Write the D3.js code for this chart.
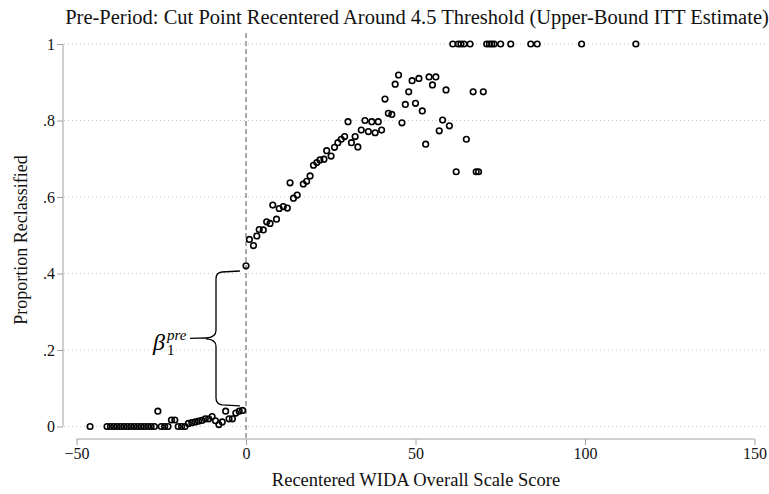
<!DOCTYPE html>
<html>
<head>
<meta charset="utf-8">
<script src="https://cdn.jsdelivr.net/npm/d3@7"></script>
<style>
  body { margin: 0; background: #fff; }
  text { font-family: "Liberation Serif", "Times New Roman", serif; }
</style>
</head>
<body>
<div id="chart"></div>
<script>
// binned scores (recentered) and share reclassified
var scoreBins = [
  -46, -41, -40, -39, -38, -37, -36, -35, -34, -33, -32, -31, -30, -29, -28, -27,
  -26, -25, -24, -23, -22, -21, -20, -19, -18, -17, -16, -15, -14, -13, -12, -11,
  -10, -9, -8, -7, -6, -5, -4, -3, -2, -1,
  0, 1.0, 2.2, 3.2, 3.9, 5.1, 6.1, 7.1, 7.9, 9.0, 9.8, 11.0, 12.2, 13.0, 14.0, 15.1,
  16.9, 17.9, 18.9, 19.9, 20.9, 21.8, 23.0, 23.8, 25.1, 26.1, 27.1, 28.1, 29.1, 30.1,
  31.1, 32.2, 33.0, 34.0, 35.1, 36.1, 37.1, 38.1, 39.0, 40.0,
  41, 42, 43, 44, 45, 46, 47, 48, 49, 50, 51, 52, 53, 54, 55, 56, 57, 58, 59, 60,
  62, 65, 67, 67.9, 68.6, 70,
  61, 62.6, 63.4, 64.3, 66.1, 71, 71.8, 72.5, 73.2, 75.1, 78.1, 84, 85.9, 99, 115
];
var propReclass = [
  0, 0, 0, 0, 0, 0, 0, 0, 0, 0, 0, 0, 0, 0, 0, 0,
  0.04, 0, 0, 0, 0.017, 0.017, 0, 0, 0, 0.008, 0.01, 0.012, 0.014, 0.016, 0.02, 0.02,
  0.026, 0.015, 0.005, 0.012, 0.04, 0.02, 0.02, 0.035, 0.04, 0.042,
  0.42, 0.489, 0.473, 0.498, 0.515, 0.514, 0.535, 0.531, 0.579, 0.542, 0.57, 0.575, 0.571, 0.637, 0.597, 0.605,
  0.634, 0.641, 0.655, 0.683, 0.69, 0.697, 0.699, 0.721, 0.707, 0.73, 0.742, 0.751, 0.758, 0.797,
  0.742, 0.758, 0.731, 0.775, 0.8, 0.771, 0.797, 0.768, 0.797, 0.775,
  0.856, 0.819, 0.816, 0.895, 0.919, 0.794, 0.842, 0.875, 0.904, 0.845, 0.91, 0.825,
  0.738, 0.914, 0.893, 0.914, 0.773, 0.801, 0.88, 0.786,
  0.666, 0.751, 0.875, 0.666, 0.666, 0.875,
  1, 1, 1, 1, 1, 1, 1, 1, 1, 1, 1, 1, 1, 1, 1
];
var xTicks = [-50, 0, 50, 100, 150];
var yTicks = [0, 0.2, 0.4, 0.6, 0.8, 1];
var yTickLabels = ["0", ".2", ".4", ".6", ".8", "1"];

// brace annotation (data units)
var braceTop = 0.4065, braceBot = 0.054, braceX = -8.85, braceEnd = -1.8, braceTip = -16.5;

var width = 769, height = 494;

var x = d3.scaleLinear().domain([-50, 150]).range([76.5, 754.5]);
var y = d3.scaleLinear().domain([0, 1]).range([426.5, 44]);

var svg = d3.select("#chart").append("svg")
    .attr("width", width)
    .attr("height", height);

// grid
svg.append("g").selectAll("line")
    .data(yTicks)
    .enter().append("line")
    .attr("x1", 64).attr("x2", 768)
    .attr("y1", function (d) { return y(d); })
    .attr("y2", function (d) { return y(d); })
    .attr("stroke", "#c8c8c8")
    .attr("stroke-width", 1)
    .attr("stroke-dasharray", "1,3");

// y axis
var yAxis = d3.axisLeft(y)
    .tickValues(yTicks)
    .tickSize(6)
    .tickFormat(function (d, i) { return yTickLabels[i]; });
var gy = svg.append("g").attr("transform", "translate(63,0)").call(yAxis);
gy.select(".domain").attr("stroke", "#a0a0a0").attr("d", "M0," + y(1) + "V" + y(0));
gy.selectAll(".tick line").attr("stroke", "#a0a0a0");
gy.selectAll(".tick text")
    .attr("font-family", "Liberation Serif, Times New Roman, serif")
    .attr("font-size", 16).attr("fill", "#111").attr("x", -8);

// x axis
var xAxis = d3.axisBottom(x).tickValues(xTicks).tickSize(6);
var gx = svg.append("g").attr("transform", "translate(0,439)").call(xAxis);
gx.select(".domain").attr("stroke", "#a0a0a0").attr("d", "M" + x(-50) + ",0H" + x(150));
gx.selectAll(".tick line").attr("stroke", "#a0a0a0");
gx.selectAll(".tick text")
    .attr("font-family", "Liberation Serif, Times New Roman, serif")
    .attr("font-size", 16).attr("fill", "#111").attr("y", 9);

// cutoff line
svg.append("line")
    .attr("x1", x(0)).attr("x2", x(0))
    .attr("y1", 33).attr("y2", 439)
    .attr("stroke", "#555")
    .attr("stroke-width", 1)
    .attr("stroke-dasharray", "5,3");

// points
var pts = scoreBins.map(function (d, i) { return {s: d, p: propReclass[i]}; });
svg.append("g").selectAll("circle")
    .data(pts)
    .enter().append("circle")
    .attr("cx", function (d) { return x(d.s); })
    .attr("cy", function (d) { return y(d.p); })
    .attr("r", 2.8)
    .attr("fill", "none")
    .attr("stroke", "#000")
    .attr("stroke-width", 1.6);

// brace
var bx = x(braceX), be = x(braceEnd), bt = x(braceTip);
var yt = y(braceTop), yb = y(braceBot), ym = (yt + yb) / 2;
var p = d3.path();
p.moveTo(be, yt);
p.lineTo(bx + 6, yt + 1);
p.quadraticCurveTo(bx, yt + 1.5, bx, yt + 8);
p.lineTo(bx, ym - 8);
p.quadraticCurveTo(bx, ym - 1, bx - 10, ym - 0.5);
p.lineTo(bt, ym);
p.moveTo(bx - 10, ym + 0.5);
p.quadraticCurveTo(bx, ym + 1, bx, ym + 8);
p.lineTo(bx, yb - 8);
p.quadraticCurveTo(bx, yb - 1.5, bx + 6, yb - 1);
p.lineTo(be, yb);
svg.append("path")
    .attr("d", p.toString())
    .attr("fill", "none")
    .attr("stroke", "#000")
    .attr("stroke-width", 1.3);

// beta label
svg.append("text").attr("x", 153).attr("y", 350)
    .attr("font-size", 24).attr("font-style", "italic").text("β");
svg.append("text").attr("x", 167).attr("y", 355)
    .attr("font-size", 15).text("1");
svg.append("text").attr("x", 167).attr("y", 340)
    .attr("font-size", 15).attr("font-style", "italic").text("pre");

// titles
svg.append("text")
    .attr("x", 417).attr("y", 24)
    .attr("text-anchor", "middle")
    .attr("font-size", 20.5).attr("fill", "#111")
    .text("Pre-Period: Cut Point Recentered Around 4.5 Threshold (Upper-Bound ITT Estimate)");
svg.append("text")
    .attr("x", 416).attr("y", 486)
    .attr("text-anchor", "middle")
    .attr("font-size", 18.5).attr("fill", "#111")
    .text("Recentered WIDA Overall Scale Score");
svg.append("text")
    .attr("transform", "translate(27,240)rotate(-90)")
    .attr("text-anchor", "middle")
    .attr("font-size", 18).attr("fill", "#111")
    .text("Proportion Reclassified");
</script>
</body>
</html>
